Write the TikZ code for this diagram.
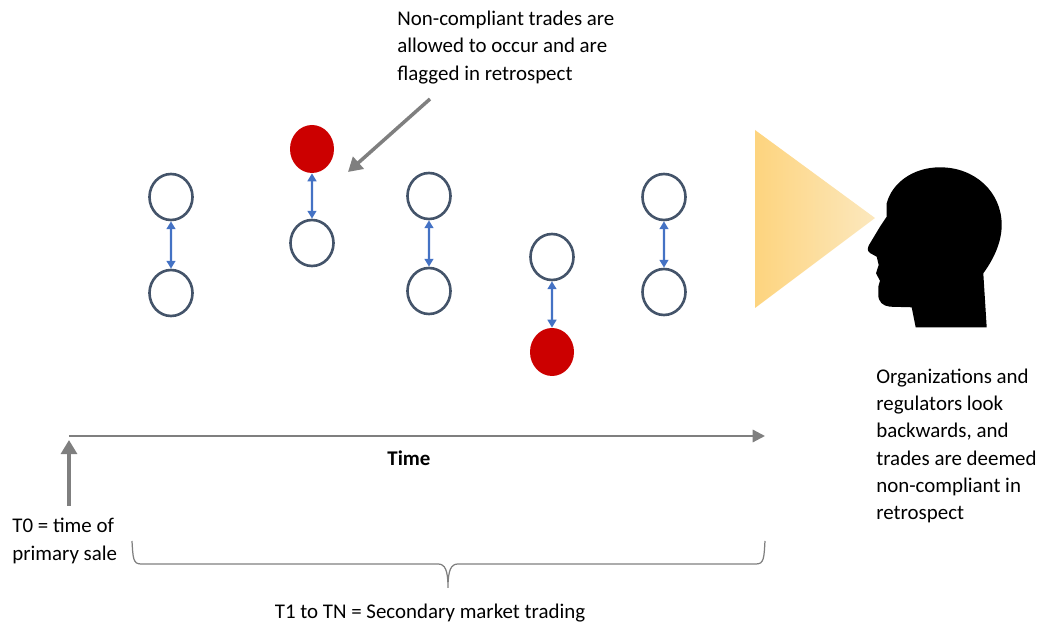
\documentclass[tikz,border=0pt]{standalone}
\usepackage{fontspec}
\setmainfont{Carlito}
\usepackage{tikz}
\usetikzlibrary{shapes.geometric,arrows.meta}
\definecolor{ringblue}{HTML}{44546A}
\definecolor{linkblue}{HTML}{4472C4}
\definecolor{flagred}{HTML}{CC0000}
\definecolor{axisgray}{HTML}{7F7F7F}
\definecolor{conelight}{HTML}{FCE8BE}
\definecolor{conedark}{HTML}{FDD47E}
\tikzset{
  trade/.style={ellipse,draw=ringblue,line width=1.5pt,minimum width=0.86cm,minimum height=0.92cm,inner sep=0pt},
  flagged/.style={ellipse,fill=flagred,minimum width=0.88cm,minimum height=0.96cm,inner sep=0pt},
  link/.style={linkblue,line width=1.2pt,{Triangle[length=4.5pt,width=5pt]}-{Triangle[length=4.5pt,width=5pt]}},
  pointer/.style={axisgray,line width=2pt,-{Triangle[length=8pt,width=9pt]}},
  caption/.style={align=left,inner sep=0pt,font=\fontsize{11.9}{15.5}\selectfont}
}

\begin{document}
\begin{tikzpicture}[scale=0.2]
      \useasboundingbox (0,0) rectangle (103.7,-62.9);
      \node [trade] (a1) at (17.1,-19.7) {};
      \node [trade] (a2) at (17.1,-29.3) {};
      \node [flagged] (b1) at (31.2,-14.9) {};
      \node [trade] (b2) at (31.2,-24.3) {};
      \node [trade] (c1) at (42.9,-19.6) {};
      \node [trade] (c2) at (42.9,-29.1) {};
      \node [trade] (d1) at (55.2,-25.7) {};
      \node [flagged] (d2) at (55.2,-35.2) {};
      \node [trade] (e1) at (66.4,-19.7) {};
      \node [trade] (e2) at (66.4,-29.2) {};
      \draw [link] (a1) -- (a2);
      \draw [link] (b1) -- (b2);
      \draw [link] (c1) -- (c2);
      \draw [link] (d1) -- (d2);
      \draw [link] (e1) -- (e2);
      \shade [left color=conedark,right color=conelight] (75.5,-13) -- (87.5,-21.8) -- (75.5,-30.8) -- cycle;
      \fill [black] (98.67,-32.73) -- (91.57,-32.73) -- (91.17,-30.73) -- (89,-30.67)
        .. controls (88.3,-30.6) and (87.8,-30.2) .. (87.83,-29.4) -- (87.83,-28.67) -- (88,-28.07)
        -- (87.6,-27.33) -- (87.87,-26.5) -- (87.67,-25.67) -- (87,-25.3)
        .. controls (86.7,-25.1) and (86.75,-24.8) .. (86.9,-24.5) -- (88,-22.67) -- (88.67,-21.67)
        -- (88.67,-20.33) .. controls (89.2,-18.3) and (91.3,-16.73) .. (94,-16.73)
        .. controls (97.5,-16.73) and (100.17,-19.2) .. (100.17,-22.5)
        .. controls (100.17,-24.3) and (99.3,-26) .. (98.33,-27.33) -- cycle;
      \node [caption,anchor=west] (note) at (39.7,-4.75) {Non-compliant trades are\\allowed to occur and are\\flagged in retrospect};
      \node [caption,anchor=west] (watch) at (87.6,-44.6) {Organizations and\\regulators look\\backwards, and\\trades are deemed\\non-compliant in\\retrospect};
      \node [caption,anchor=center,font=\fontsize{11.9}{15.5}\selectfont\bfseries] (time) at (40.9,-45.8) {Time};
      \node [caption,anchor=west] (start) at (1.2,-54.1) {T0 = time of\\primary sale};
      \node [caption,anchor=center] (market) at (43,-61.3) {T1 to TN = Secondary market trading};
      \coordinate (notetip) at (34.8,-17.2);
      \coordinate (notetail) at (43,-9.9);
      \coordinate (axisleft) at (6.9,-43.6);
      \coordinate (axisright) at (76.5,-43.6);
      \coordinate (startlow) at (6.9,-50.6);
      \coordinate (starttip) at (6.9,-44);
      \draw [pointer] (notetail) -- (notetip);
      \draw [axisgray,line width=1.3pt,-{Triangle[length=7pt,width=7pt]}] (axisleft) -- (axisright);
      \draw [pointer] (startlow) -- (starttip);
      \coordinate (braceleft) at (13.2,-54.1);
      \coordinate (braceright) at (76.5,-54.1);
      \coordinate (bracetip) at (44.8,-58.8);
      \draw [axisgray,line width=0.7pt] (braceleft) .. controls (13.3,-55.8) and (13.3,-56.4) .. (14.1,-56.4)
        -- (43.8,-56.4) .. controls (44.5,-56.4) and (44.8,-57) .. (bracetip)
        .. controls (44.8,-57) and (45.1,-56.4) .. (45.8,-56.4) -- (75.6,-56.4)
        .. controls (76.4,-56.4) and (76.4,-55.8) .. (braceright);
\end{tikzpicture}
\end{document}
